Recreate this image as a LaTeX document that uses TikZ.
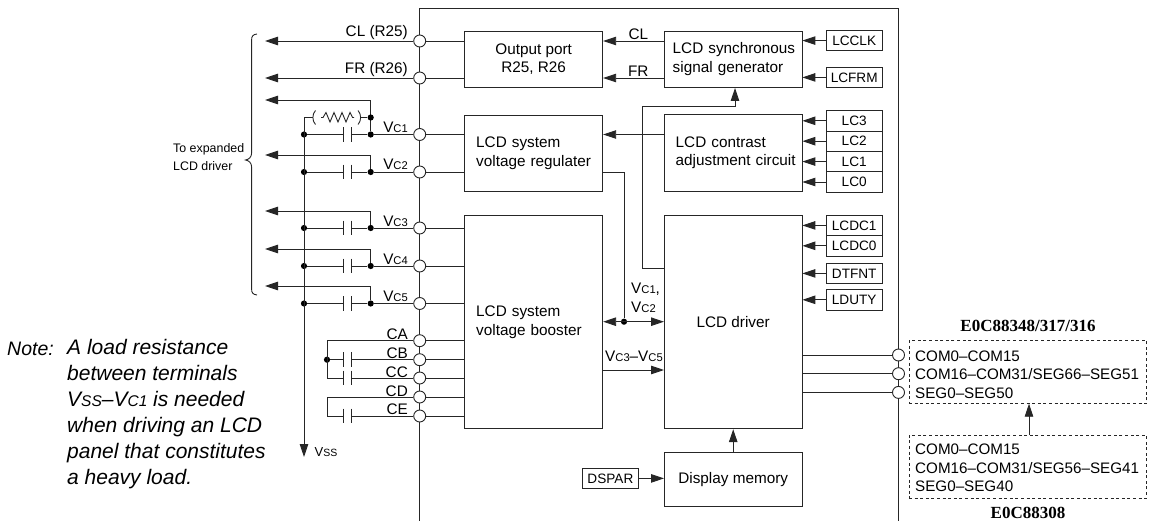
\documentclass[tikz,border=0pt]{standalone}
\usepackage{fontspec}
\setmainfont{Liberation Sans}
\newfontfamily\titlefont{Liberation Serif}
\usetikzlibrary{arrows.meta}
\newcommand{\fmain}{\fontsize{15.3}{18.6}\selectfont}
\newcommand{\fpin}{\fontsize{13.6}{16}\selectfont}
\newcommand{\fsml}{\fontsize{15.2}{18.7}\selectfont}
\newcommand{\sm}[1]{{\fontsize{11.2}{10}\selectfont #1}}
\newcommand{\smn}[1]{{\fontsize{15.5}{10}\selectfont #1}}
\tikzset{
  wire/.style={line width=0.9pt,draw=black!85},
  arr/.style={wire,-{Triangle[length=13pt,width=8.5pt]}},
  arrboth/.style={wire,{Triangle[length=13pt,width=8.5pt]}-{Triangle[length=13pt,width=8.5pt]}},
  box/.style={draw=black!85,line width=0.9pt,fill=white,inner ysep=0pt,font=\fmain},
  tbox/.style={box,align=left},
  regbox/.style={draw=black!85,line width=0.9pt,fill=white,minimum width=55.7pt,inner sep=0pt,font=\fpin},
  pinc/.style={circle,draw=black!85,line width=0.9pt,fill=white,minimum size=12pt,inner sep=0pt},
  dotn/.style={circle,fill=black,minimum size=6.2pt,inner sep=0pt},
  capn/.style={minimum width=7.3pt,minimum height=14.5pt,inner sep=0pt},
  lbl/.style={font=\fmain,inner sep=0pt},
  dbox/.style={draw=black!85,line width=0.7pt,dash pattern=on 3pt off 2.6pt,minimum width=237.7pt,minimum height=62.7pt,inner sep=0pt},
  dtext/.style={inner sep=0pt,align=left,anchor=west,font=\fsml},
  title/.style={font=\titlefont\bfseries\fontsize{17}{19}\selectfont,inner sep=0pt,anchor=base},
  note/.style={font=\itshape\fontsize{21}{26}\selectfont,inner sep=0pt,align=left}
}
\newcommand{\capplates}[1]{\draw[wire] (#1.north west)--(#1.south west) (#1.north east)--(#1.south east);}
\begin{document}
\begin{tikzpicture}[x=1pt,y=-1pt]
\useasboundingbox (0,0) rectangle (1155,521);
% chip outline
\draw[wire] (419.7,521) -- (419.7,8) -- (898,8) -- (898,521);
% blocks
\node[box,minimum width=138pt,minimum height=56.5pt,align=center] (op) at (533.7,59.3) {Output port\\R25, R26};
\node[tbox,minimum height=76.5pt,text width=115pt,inner xsep=11.5pt] (reg) at (533.7,153.3) {LCD system\\voltage regulater};
\node[tbox,minimum height=213.5pt,text width=115pt,inner xsep=11.5pt] (boost) at (533.7,322) {LCD system\\voltage booster};
\node[tbox,minimum height=56.5pt,text width=129pt,inner xsep=4.25pt] (sync) at (733.2,59.3) {\hspace{4pt}LCD synchronous\\\hspace{4pt}signal generator};
\node[tbox,minimum height=77.5pt,text width=127pt,inner xsep=5.25pt] (con) at (733.2,152.8) {\hspace{6pt}LCD contrast\\\hspace{6pt}adjustment circuit};
\node[box,minimum width=137.5pt,minimum height=213.5pt,align=center] (drv) at (733.2,322) {LCD driver};
\node[box,minimum width=137.5pt,minimum height=54pt,align=center] (mem) at (733.2,479.7) {Display memory};
% register pins
\node[regbox,minimum height=20.4pt] (lcclk) at (854.2,40.6) {LCCLK};
\node[regbox,minimum height=20.4pt] (lcfrm) at (854.2,77.4) {LCFRM};
\node[regbox,minimum height=20.4pt] (lc3) at (854.2,120.8) {LC3};
\node[regbox,minimum height=20.4pt] (lc2) at (854.2,141.2) {LC2};
\node[regbox,minimum height=20.4pt] (lc1) at (854.2,161.6) {LC1};
\node[regbox,minimum height=20.4pt] (lc0) at (854.2,182) {LC0};
\node[regbox,minimum height=20.4pt] (lcdc1) at (854.2,225.4) {LCDC1};
\node[regbox,minimum height=20.4pt] (lcdc0) at (854.2,245.8) {LCDC0};
\node[regbox,minimum height=20.4pt] (dtfnt) at (854.2,273.4) {DTFNT};
\node[regbox,minimum height=20.4pt] (lduty) at (854.2,299.8) {LDUTY};
\node[regbox,minimum height=20.4pt] (dspar) at (610.4,478.4) {DSPAR};
\foreach \p in {lcclk,lcfrm}{\draw[arr] (\p.west) -- (\p.west-|sync.east);}
\foreach \p in {lc3,lc2,lc1,lc0}{\draw[arr] (\p.west) -- (\p.west-|con.east);}
\foreach \p in {lcdc1,lcdc0,dtfnt,lduty}{\draw[arr] (\p.west) -- (\p.west-|drv.east);}
\draw[arr] (dspar.east) -- (dspar.east-|mem.west);
\draw[arr] (mem.north) -- (drv.south);
% internal links
\coordinate (yCL) at (0,41);
\coordinate (yFR) at (0,78);
\coordinate (yV1) at (0,134.5);
\coordinate (yV2) at (0,172);
\draw[arr] (sync.west|-yCL) -- (op.east|-yCL);
\draw[arr] (sync.west|-yFR) -- (op.east|-yFR);
\draw[arr] (con.west|-yV1) -- (reg.east|-yV1);
\node[lbl,anchor=base] (lCL) at (638.3,39.3) {CL};
\node[lbl,anchor=base] (lFR) at (638.3,77) {FR};
\coordinate (fb1) at (642.7,268.7);
\coordinate (fb2) at (642.7,106.7);
\coordinate (fb3) at (735,106.7);
\draw[wire] (drv.west|-fb1) -- (fb1) -- (fb2) -- (fb3);
\draw[arr] (fb3) -- (fb3|-sync.south);
\node[dotn] (dv) at (624,321.7) {};
\draw[wire] (reg.east|-yV2) -- (dv|-yV2) -- (dv);
\draw[arrboth] (boost.east|-dv) -- (drv.west|-dv);
\coordinate (v35) at (603,370);
\draw[arr] (v35) -- (drv.west|-v35);
\node[lbl,anchor=base west] (lv1) at (631,293.3) {V\sm{C1},};
\node[lbl,anchor=base west] (lv2) at (631,312) {V\sm{C2}};
\node[lbl,anchor=base west] (lv3) at (605,361) {V\sm{C3}–V\sm{C5}};
% left terminals
\foreach \n/\y in {pCL/41,pFR/78,pV1/134.5,pV2/172,pV3/228,pV4/266,pV5/303.5,pCA/340.7,pCB/359.7,pCC/378,pCD/397,pCE/416}{
  \coordinate (o\n) at (419.7,\y);
}
\foreach \n in {pCL,pFR}{\draw[wire] (o\n) -- (op.west|-o\n);}
\foreach \n in {pV1,pV2}{\draw[wire] (o\n) -- (reg.west|-o\n);}
\foreach \n in {pV3,pV4,pV5,pCA,pCB,pCC,pCD,pCE}{\draw[wire] (o\n) -- (boost.west|-o\n);}
\foreach \n/\y in {pCL/41,pFR/78,pV1/134.5,pV2/172,pV3/228,pV4/266,pV5/303.5,pCA/340.7,pCB/359.7,pCC/378,pCD/397,pCE/416}{
  \node[pinc] (\n) at (419.7,\y) {};
}
\coordinate (tCL) at (265,41);
\coordinate (tFR) at (265,78);
\draw[arr] (pCL) -- (tCL);
\draw[arr] (pFR) -- (tFR);
\node[lbl,anchor=base east] (lcl) at (408,36.5) {CL (R25)};
\node[lbl,anchor=base east] (lfr) at (408,73.5) {FR (R26)};
% Vc rows
\newcommand{\vcrow}[3]{% suffix, y, arrow y
  \node[dotn] (dr#1) at (370.7,#2) {};
  \node[dotn] (dl#1) at (304,#2) {};
  \node[capn] (c#1) at (347.7,#2) {};
  \capplates{c#1}
  \draw[wire] (dl#1) -- (c#1.west) (c#1.east) -- (dr#1) -- (pV#1);
  \coordinate (k#1) at (370.7,#3);
  \coordinate (t#1) at (265,#3);
  \draw[arr] (dr#1) -- (k#1) -- (t#1);
  \node[lbl,anchor=base east] (lv#1x) at (408,#2-2) {V\sm{C#1}};
}
\vcrow{1}{134.5}{100}
\vcrow{2}{172}{155}
\vcrow{3}{228}{211}
\vcrow{4}{266}{249}
\vcrow{5}{303.5}{286}
% Vss bus and load resistor
\node[dotn] (dres) at (370.7,117.5) {};
\coordinate (rl) at (304,117.5);
\coordinate (tss) at (304,457);
\draw[arr] (rl) -- (tss);
\node[font=\fontsize{13}{14}\selectfont,inner sep=0pt,anchor=base west] (lss) at (314.5,456.5) {V{\fontsize{10.5}{10}\selectfont SS}};
\draw[wire] (rl) -- (313,117.5);
\draw[wire] (315.5,110.5) .. controls (312,114) and (312,121) .. (315.5,124.5);
\draw[wire] (321,117.5) -- (323,117.5) -- (326,112.5) -- (330,122) -- (334,112.5) -- (338,122) -- (342,112.5) -- (346,122) -- (350,112.5) -- (352.5,117.5) -- (354,117.5);
\draw[wire] (358,110.5) .. controls (361.5,114) and (361.5,121) .. (358,124.5);
\draw[wire] (360.5,117.5) -- (dres);
% C terminals
\node[dotn] (dc) at (327,359.7) {};
\node[capn] (cb) at (347.7,359.7) {};
\node[capn] (cc) at (347.7,378) {};
\node[capn] (ce) at (347.7,416) {};
\capplates{cb}\capplates{cc}\capplates{ce}
\coordinate (cx1) at (327,340.7);
\coordinate (cx2) at (327,378);
\coordinate (cx3) at (327,397);
\coordinate (cx4) at (327,416);
\draw[wire] (pCA) -- (cx1) -- (cx2) -- (cc.west);
\draw[wire] (cc.east) -- (pCC);
\draw[wire] (dc) -- (cb.west) (cb.east) -- (pCB);
\draw[wire] (pCD) -- (cx3) -- (cx4) -- (ce.west);
\draw[wire] (ce.east) -- (pCE);
\node[lbl,anchor=base east] (la) at (408,339) {CA};
\node[lbl,anchor=base east] (lb) at (408,358.3) {CB};
\node[lbl,anchor=base east] (lc) at (408,377) {CC};
\node[lbl,anchor=base east] (ld) at (408,396.5) {CD};
\node[lbl,anchor=base east] (le) at (408,414.5) {CE};
% brace
\draw[wire] (257,34) .. controls (253,34.5) and (251.6,36) .. (251.6,40) -- (251.6,153) .. controls (251.6,157) and (249,159.5) .. (245.5,160) .. controls (249,160.5) and (251.6,163) .. (251.6,167) -- (251.6,289) .. controls (251.6,293) and (253,294.5) .. (257,295);
\node[font=\fontsize{12.4}{18.5}\selectfont,inner sep=0pt,align=left,anchor=west] (exp) at (173,157) {To expanded\\LCD driver};
% note
\node[font=\itshape\fontsize{19.5}{26}\selectfont,inner sep=0pt,anchor=base west] (nt) at (7,355) {Note:};
\node[note,anchor=north west] (nb) at (67,339.5) {A load resistance\\between terminals\\V\smn{SS}–V\smn{C1} is needed\\when driving an LCD\\panel that constitutes\\a heavy load.};
% right outputs
\foreach \n/\y in {pO1/355,pO2/373.7,pO3/392.4}{
  \coordinate (o\n) at (898.5,\y);
  \draw[wire] (o\n) -- (drv.east|-o\n);
  \node[pinc] (\n) at (898.5,\y) {};
}
\node[dbox] (d1) at (1027.9,372) {};
\node[dbox] (d2) at (1027.9,466.7) {};
\node[dtext] (d1t) at (915,374.7) {COM0–COM15\\COM16–COM31/SEG66–SEG51\\SEG0–SEG50};
\node[dtext] (d2t) at (915,468) {COM0–COM15\\COM16–COM31/SEG56–SEG41\\SEG0–SEG40};
\coordinate (ax) at (1029,0);
\draw[arr] (d2.north-|ax) -- (d1.south-|ax);
\node[title] (t1) at (1028,331.7) {E0C88348/317/316};
\node[title] (t2) at (1028,518.5) {E0C88308};
\end{tikzpicture}
\end{document}
